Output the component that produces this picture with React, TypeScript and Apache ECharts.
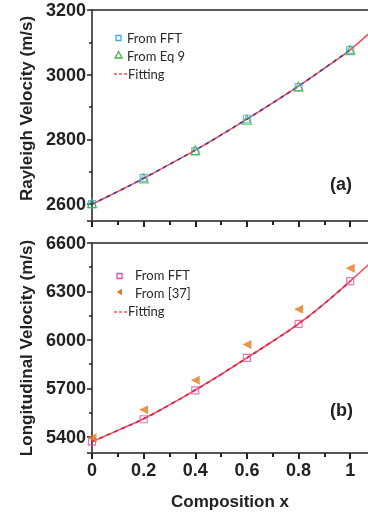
import React, { useEffect, useRef } from "react";
import * as echarts from "echarts";

const compositionX = [0, 0.2, 0.4, 0.6, 0.8, 1.0];
const rayleighFFT = [2600, 2681, 2763, 2864, 2962, 3077];
const rayleighEq9 = [2603, 2680, 2767, 2861, 2963, 3076];
const fitX = [0, 0.1, 0.2, 0.3, 0.4, 0.5, 0.6, 0.7, 0.8, 0.9, 1.0, 1.1];
const rayleighFit = [2600, 2639, 2680, 2723, 2767, 2814, 2863, 2913, 2965, 3020, 3077, 3148];
const longFFT = [5370, 5509, 5688, 5889, 6099, 6364];
const long37 = [5394, 5567, 5750, 5971, 6190, 6444];
const longFit = [5370, 5440, 5512, 5598, 5690, 5787, 5889, 5992, 6100, 6225, 6364, 6510];

const legendTop = ["From FFT", "From Eq 9", "Fitting"];
const legendBottom = ["From FFT", "From [37]", "Fitting"];
const yTitleTop = "Rayleigh Velocity (m/s)";
const yTitleBottom = "Longitudinal Velocity (m/s)";
const xTitle = "Composition x";
const panelTags = ["(a)", "(b)"];

const zip = (xs: number[], ys: number[]) => ys.map((y, i) => [xs[i], y]);

const TICK_FONT = "Liberation Sans";
const RED = "#f2505e";

const legendText = (text: string, x: number, y: number) => ({
  type: "text",
  x,
  y,
  style: { text, fontFamily: "Lato", fontSize: 13, fill: "#2a2a2a", verticalAlign: "middle", align: "left" },
  z: 10,
});

export default function App() {
  const ref = useRef<HTMLDivElement>(null);
  useEffect(() => {
    if (!ref.current) return;
    const chart = echarts.init(ref.current, undefined, { renderer: "svg" });
    const axisLine = { show: true, lineStyle: { color: "#555", width: 1.5 } };
    const xAxisBase = (grid: number, labels: boolean) => ({
      type: "value",
      gridIndex: grid,
      min: 0,
      max: 1.1,
      interval: 0.2,
      axisLine,
      axisTick: { show: true, length: 6, lineStyle: { color: "#222", width: 2 } },
      minorTick: { show: true, splitNumber: 2, length: 4, lineStyle: { color: "#222", width: 2 } },
      splitLine: { show: false },
      minorSplitLine: { show: false },
      axisLabel: {
        show: labels,
        margin: 8,
        fontFamily: TICK_FONT,
        fontWeight: "bold",
        fontSize: 18,
        color: "#222",
        formatter: (v: number) => (v > 1.05 ? "" : String(v)),
      },
    });
    const yAxisBase = (grid: number, min: number, max: number, step: number, name: string, pad: number[]) => ({
      type: "value",
      gridIndex: grid,
      min,
      max,
      minInterval: step,
      maxInterval: step,
      splitNumber: 3,
      axisLine,
      axisTick: { show: true, length: 5, lineStyle: { color: "#222", width: 1.5 } },
      minorTick: { show: true, splitNumber: 2, length: 3, lineStyle: { color: "#222", width: 1.5 } },
      splitLine: { show: false },
      minorSplitLine: { show: false },
      axisLabel: {
        margin: 6,
        fontFamily: TICK_FONT,
        fontWeight: "bold",
        fontSize: 18,
        color: "#222",
        formatter: (v: number) => (Math.abs(v % step) < 1e-6 ? String(v) : ""),
      },
      name,
      nameLocation: "middle",
      nameRotate: 90,
      nameGap: 55,
      nameTextStyle: {
        fontFamily: TICK_FONT,
        fontWeight: "bold",
        fontSize: 17,
        color: "#222",
        padding: pad,
      },
    });
    const hollow = (color: string) => ({ color: "rgba(255,255,255,0)", borderColor: color, borderWidth: 1.2 });
    chart.setOption({
      animation: false,
      grid: [
        { left: 92, right: -8, top: 10, height: 211, show: true, borderColor: "#5a5a5a", borderWidth: 2, outerBoundsMode: "none" },
        { left: 92, right: -8, top: 243, height: 210, show: true, borderColor: "#5a5a5a", borderWidth: 2, outerBoundsMode: "none" },
      ],
      xAxis: [
        xAxisBase(0, false),
        {
          ...xAxisBase(1, true),
          name: xTitle,
          nameLocation: "middle",
          nameGap: 40,
          nameTextStyle: { fontFamily: TICK_FONT, fontWeight: "bold", fontSize: 17, color: "#222", padding: [0, 8, 0, 0] },
        },
      ],
      yAxis: [
        yAxisBase(0, 2548, 3200, 200, yTitleTop, [0, 0, 0, 14]),
        yAxisBase(1, 5300, 6600, 300, yTitleBottom, [0, 0, 0, 0]),
      ],
      series: [
        {
          name: legendTop[2],
          type: "line",
          xAxisIndex: 0,
          yAxisIndex: 0,
          smooth: true,
          symbol: "none",
          lineStyle: { color: RED, width: 1.6 },
          data: zip(fitX, rayleighFit),
          z: 2,
        },
        {
          name: "dash-a",
          type: "line",
          xAxisIndex: 0,
          yAxisIndex: 0,
          smooth: true,
          symbol: "none",
          lineStyle: { color: "#4a3c9c", width: 1.6, type: [4, 4] },
          data: zip(fitX.slice(0, 11), rayleighFit.slice(0, 11)),
          z: 3,
        },
        {
          name: legendTop[0],
          type: "scatter",
          xAxisIndex: 0,
          yAxisIndex: 0,
          symbol: "rect",
          symbolSize: 7,
          itemStyle: hollow("#4aa6e6"),
          data: zip(compositionX, rayleighFFT),
          z: 4,
        },
        {
          name: legendTop[1],
          type: "scatter",
          xAxisIndex: 0,
          yAxisIndex: 0,
          symbol: "triangle",
          symbolSize: 9,
          itemStyle: hollow("#3cb44a"),
          data: zip(compositionX, rayleighEq9),
          z: 5,
        },
        {
          name: legendBottom[2],
          type: "line",
          xAxisIndex: 1,
          yAxisIndex: 1,
          smooth: true,
          symbol: "none",
          lineStyle: { color: RED, width: 1.6 },
          data: zip(fitX, longFit),
          z: 2,
        },
        {
          name: "dash-b",
          type: "line",
          xAxisIndex: 1,
          yAxisIndex: 1,
          smooth: true,
          symbol: "none",
          lineStyle: { color: "#d8204a", width: 1.6, type: [4, 4] },
          data: zip(fitX.slice(0, 11), longFit.slice(0, 11)),
          z: 3,
        },
        {
          name: legendBottom[0],
          type: "scatter",
          xAxisIndex: 1,
          yAxisIndex: 1,
          symbol: "rect",
          symbolSize: 7,
          itemStyle: hollow("#e0529c"),
          data: zip(compositionX, longFFT),
          z: 4,
        },
        {
          name: legendBottom[1],
          type: "scatter",
          xAxisIndex: 1,
          yAxisIndex: 1,
          symbol: "triangle",
          symbolRotate: 90,
          symbolSize: 9,
          itemStyle: { color: "#e37a1e" },
          data: zip(compositionX, long37),
          z: 5,
        },
      ],
      graphic: [
        // top legend
        { type: "rect", shape: { x: 116, y: 35.5, width: 5, height: 5 }, style: { fill: "none", stroke: "#4aa6e6", lineWidth: 1.3 }, z: 10 },
        { type: "polygon", shape: { points: [[118.5, 51.5], [122, 58], [115, 58]] }, style: { fill: "none", stroke: "#3cb44a", lineWidth: 1.3 }, z: 10 },
        { type: "line", shape: { x1: 114, y1: 74, x2: 127, y2: 74 }, style: { stroke: RED, lineWidth: 1.3, lineDash: [3, 2] }, z: 10 },
        legendText(legendTop[0], 127, 38),
        legendText(legendTop[1], 127, 55.5),
        legendText(legendTop[2], 128, 74),
        // bottom legend
        { type: "rect", shape: { x: 117, y: 273.5, width: 5, height: 5 }, style: { fill: "none", stroke: "#e0529c", lineWidth: 1.3 }, z: 10 },
        { type: "polygon", shape: { points: [[116.5, 292], [122, 288.8], [122, 295.2]] }, style: { fill: "#e37a1e" }, z: 10 },
        { type: "line", shape: { x1: 114, y1: 312, x2: 127, y2: 312 }, style: { stroke: RED, lineWidth: 1.3, lineDash: [3, 2] }, z: 10 },
        legendText(legendBottom[0], 135, 275),
        legendText(legendBottom[1], 135, 292.5),
        legendText(legendBottom[2], 128, 311),
        { type: "text", left: 330, top: 175, style: { text: panelTags[0], fontFamily: TICK_FONT, fontWeight: "bold", fontSize: 18, fill: "#222" } },
        { type: "text", left: 330, top: 401, style: { text: panelTags[1], fontFamily: TICK_FONT, fontWeight: "bold", fontSize: 18, fill: "#222" } },
      ],
    });
    return () => chart.dispose();
  }, []);
  return <div ref={ref} style={{ position: "fixed", left: 0, top: 0, width: 368, height: 517 }} />;
}
